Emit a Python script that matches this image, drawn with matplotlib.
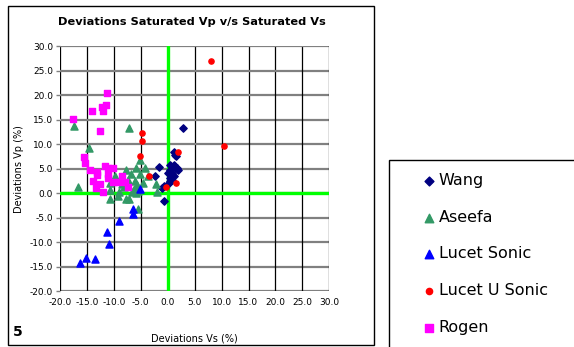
import matplotlib
matplotlib.use('Agg')
import matplotlib.pyplot as plt
from matplotlib.patches import Rectangle

W, H = 574, 347

# data (x = deviation Vs %, y = deviation Vp %)
wang_x = [2.8, 1.1, 1.6, 1.4, 0.5, 1.1, 1.7, 0.8, 1.4, 0.4, 1.9, 0.0, 0.8, 1.1, 0.5, 0.8, 0.2, 0.5, -1.7, -2.4, -1.0, -0.6, -0.6]
wang_y = [13.2, 8.3, 7.6, 7.8, 5.8, 5.8, 5.1, 5.4, 5.4, 4.8, 4.8, 4.2, 4.1, 3.4, 3.1, 2.6, 2.0, 2.4, 5.3, 3.5, 1.0, 1.5, -1.6]

aseefa_x = [-17.4, -7.2, -14.7, -16.7, -5.1, -4.3, -5.9, -7.7, -5.1, -6.9, -3.7, -9.7, -10.8, -8.4, -7.4, -6.0,
            -5.7, -4.6, -2.2, -2.0, -10.7, -9.1, -8.2, -6.3, -5.8, -10.7, -9.2, -7.7, -7.1, -5.5, -5.6, -6.6]
aseefa_y = [13.6, 13.2, 9.2, 1.2, 6.8, 5.1, 5.1, 4.8, 3.9, 3.9, 3.5, 3.4, 2.0, 1.9, 2.6, 2.4,
            1.7, 2.0, 1.9, 0.3, 0.7, 0.3, 1.3, 0.9, 0.0, -1.1, -0.5, -1.2, -1.2, -3.3, 0.5, 0.2]

sonic_x = [-16.3, -15.1, -13.5, -11.2, -10.9, -9.1, -6.5, -6.5, -5.1]
sonic_y = [-14.3, -13.3, -13.5, -8.0, -10.3, -5.6, -3.3, -4.3, 0.8]

usonic_x = [8.0, 10.4, -4.8, -4.8, -5.1, 1.9, 1.5, -0.4, -3.5]
usonic_y = [26.9, 9.6, 12.3, 10.7, 7.6, 8.4, 2.1, 1.2, 3.6]

rogen_x = [-17.5, -14.0, -12.2, -11.5, -12.0, -11.2, -12.5, -15.5, -15.3, -14.4, -13.2, -13.2, -11.6,
           -11.0, -10.2, -11.1, -11.1, -13.8, -12.5, -13.3, -12.1, -10.1, -9.3, -8.4, -8.0, -7.4]
rogen_y = [15.2, 16.8, 17.5, 17.9, 16.8, 20.5, 12.7, 7.3, 6.1, 4.8, 4.4, 3.7, 5.5,
           5.1, 5.1, 4.0, 3.1, 2.4, 1.9, 1.0, 0.3, 2.3, 2.3, 3.5, 2.2, 1.2]

ticks = [-20, -15, -10, -5, 0, 5, 10, 15, 20, 25, 30]

fig = plt.figure(figsize=(W / 100, H / 100), dpi=100)
fig.patch.set_facecolor('white')

# outer chart frame and legend frame
fig.patches.append(Rectangle((8 / W, 1 - 345 / H), 366 / W, 339 / H, transform=fig.transFigure,
                             fill=False, edgecolor='black', lw=1))
fig.patches.append(Rectangle((389 / W, 1 - 352 / H), 200 / W, 192 / H, transform=fig.transFigure,
                             fill=False, edgecolor='black', lw=1))

ax = fig.add_axes([60 / W, 1 - 291.3 / H, 269.3 / W, 245.3 / H])
ax.set_xlim(-20, 30)
ax.set_ylim(-20, 30)
ax.set_xticks(ticks)
ax.set_yticks(ticks)
ax.set_xticklabels(['%.1f' % t for t in ticks], fontsize=6.5)
ax.set_yticklabels(['%.1f' % t for t in ticks], fontsize=6.5)
for t in ticks:
    ax.axhline(t, color='#808080', lw=1.6, zorder=1)
    ax.axvline(t, color='black', lw=0.9, zorder=1)
ax.axhline(0, color='#00ff00', lw=2.4, zorder=2)
ax.axvline(0, color='#00ff00', lw=2.4, zorder=2)
for s in ax.spines.values():
    s.set_visible(False)
ax.tick_params(axis='y', length=3, width=1, color='#808080', pad=2)
ax.tick_params(axis='x', length=0, pad=5)

ax.scatter(wang_x, wang_y, marker='D', s=14, color='#000080', label='Wang', zorder=3)
ax.scatter(aseefa_x, aseefa_y, marker='^', s=26, color='#339966', label='Aseefa', zorder=3)
ax.scatter(sonic_x, sonic_y, marker='^', s=26, color='#0000ff', label='Lucet Sonic', zorder=3)
ax.scatter(usonic_x, usonic_y, marker='o', s=14, color='#ff0000', label='Lucet U Sonic', zorder=3)
ax.scatter(rogen_x, rogen_y, marker='s', s=18, color='#ff00ff', label='Rogen', zorder=3)

ax.set_xlabel('Deviations Vs (%)', fontsize=7, labelpad=19)
ax.set_ylabel('Deviations Vp (%)', fontsize=7, labelpad=4)

fig.text(192 / W, 1 - 21.7 / H, 'Deviations Saturated Vp v/s Saturated Vs', ha='center', va='center',
         fontsize=8.2, fontweight='bold')
fig.text(13 / W, 1 - 332 / H, '5', ha='left', va='center', fontsize=10, fontweight='bold')

handles, labels = ax.get_legend_handles_labels()
fig.legend(handles, labels, loc='upper left', bbox_to_anchor=(413 / W, 1 - 165 / H), frameon=False,
           fontsize=11.5, handletextpad=0.1, handlelength=1.0, labelspacing=1.36, borderpad=0,
           markerscale=1.2)

fig.savefig('out.png', dpi=100)
